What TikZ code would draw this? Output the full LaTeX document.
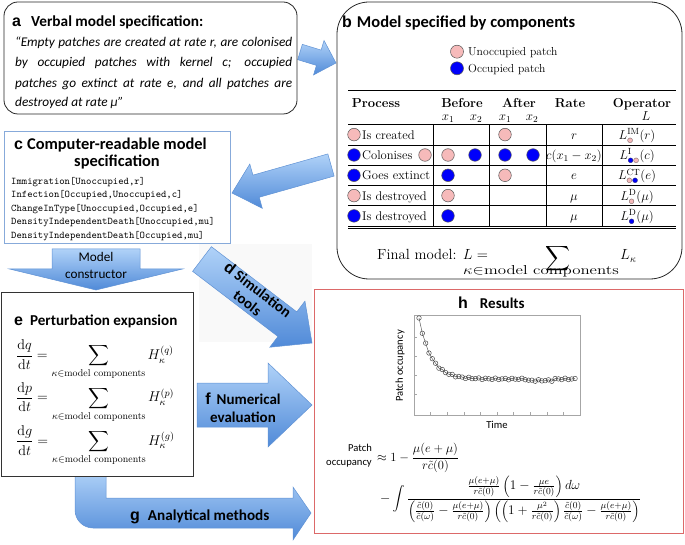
\RequirePackage{fix-cm}
\documentclass[tikz,border=0pt]{standalone}
\usepackage{fontspec}
\usepackage{amsmath}
\usepackage{graphicx}
\newfontfamily\carl{Carlito}
\newfontfamily\arl{Liberation Sans}
\newfontfamily\djv{DejaVu Sans}
\definecolor{pinkc}{RGB}{246,186,186}
\definecolor{bluec}{RGB}{0,0,250}
\definecolor{alight}{RGB}{176,210,248}
\definecolor{adark}{RGB}{80,138,216}
\definecolor{aedge}{RGB}{96,146,212}
\definecolor{redbox}{RGB}{220,105,105}
\definecolor{cbox}{RGB}{135,170,218}
\newcommand\fsz[1]{\fontsize{#1}{#1}\selectfont}
\newcommand\lab[1]{{\arl\bfseries\fontsize{16}{16}\selectfont #1}}
\newcommand\SP{\mbox{\djv\fontsize{6.5}{6.5}\selectfont\rlap{\textcolor{pinkc}{●}}\textcolor{black!75}{○}}}
\newcommand\SB{\mbox{\djv\fontsize{6.5}{6.5}\selectfont\rlap{\textcolor{bluec}{●}}\textcolor{black!75}{○}}}
\newcommand\barrow[8][]{%
  \pgfmathsetmacro\baang{atan2(-(#5-#3),#4-#2)}%
  \pgfmathsetmacro\balen{veclen(#4-#2,#5-#3)}%
  \begin{scope}[shift={(#4,#5)},rotate=\baang]
    \draw[blockarrow,#1] (0,0) -- (-#8,#7/2) -- (-#8,#6/2) -- (-\balen,#6/2)
      -- (-\balen,-#6/2) -- (-#8,-#6/2) -- (-#8,-#7/2) -- cycle;
  \end{scope}}
\begin{document}
\begin{tikzpicture}[x=1pt,y=-1pt,
  every node/.append style={inner sep=0pt},
  blockarrow/.style={top color=alight,bottom color=adark,draw=aedge,line width=0.5pt},
  pinkdot/.style={fill=pinkc,draw=black!65,line width=0.5pt},
  bluedot/.style={fill=bluec,draw=black!65,line width=0.5pt},
  ttl/.style={font=\carl\bfseries\fsz{#1}},
  tabtxt/.style={font=\fsz{12.6}},
  rule/.style={line width=0.5pt}]
\useasboundingbox (0,0) rectangle (685,545);
\fill[gray!5] (199,244) rectangle (312,342);

% ---------- block arrows ----------
\barrow{300}{52}{336}{63}{16}{36}{18}
\barrow{331}{165}{232}{193}{23}{46}{25}
\barrow{96}{249}{96}{290}{88}{173}{21}
\barrow{202}{259}{312}{343}{31}{58}{31}
\barrow{197}{405}{312}{405}{44}{84}{44}
\draw[blockarrow] (75,470) -- (75,510) arc[start angle=180,end angle=270,radius=18pt]
  -- (293,528) -- (293,540) -- (311,513) -- (293,487) -- (293,498) -- (106,498) -- (106,470) -- cycle;

% ---------- panels ----------
\node[draw=black!85,line width=0.8pt,rounded corners=14pt,fill=white,minimum width=293pt,minimum height=112pt] (pa) at (150.5,58) {};
\node[draw=black!85,line width=0.8pt,rounded corners=32pt,fill=white,minimum width=345pt,minimum height=277pt] (pb) at (509.5,140.5) {};
\node[draw=cbox,line width=0.8pt,fill=white,minimum width=226pt,minimum height=112pt] (pc) at (117,187) {};
\node[draw=black!80,line width=0.8pt,fill=white,minimum width=192pt,minimum height=184pt] (pe) at (97,384) {};
\node[draw=redbox,line width=0.8pt,fill=white,minimum width=369pt,minimum height=244pt] (ph) at (498.5,411) {};

% ---------- panel a ----------
\node[ttl=15.3,anchor=base west] (ta) at (12,27) {\lab{a}\hspace{10pt}Verbal model specification:};
\begin{scope}[every node/.append style={font=\carl\itshape\fsz{13.3},anchor=base west}]
\node (a1) at (15,46.7) {\makebox[277pt][s]{“Empty patches are created at rate r, are colonised}};
\node (a2) at (15,66.7) {\makebox[277pt][s]{by occupied patches with kernel c; occupied}};
\node (a3) at (15,87.3) {\makebox[277pt][s]{patches go extinct at rate e, and all patches are}};
\node (a4) at (15,106.7) {destroyed at rate μ”};
\end{scope}

% ---------- panel b ----------
\node[ttl=16.5,anchor=base west] (tb) at (342,28) {\lab{b}\hspace{5pt}Model specified by components};
\draw[pinkdot] (457,51.7) circle (6.5pt);
\draw[bluedot] (457,68.3) circle (6.5pt);
\node[font=\fsz{11.6},anchor=base west] (l1) at (468,55.6) {Unoccupied patch};
\node[font=\fsz{11.6},anchor=base west] (l2) at (468,72.2) {Occupied patch};
\draw[line width=1pt] (348,90.5) -- (676,90.5);
\draw[rule] (348,124.5) -- (676,124.5);
\foreach \yy in {144.8,165.1,185.4,205.7} \draw[rule] (348,\yy) -- (676,\yy);
\draw[rule] (348,226) -- (676,226) (348,228.5) -- (676,228.5);
\foreach \xx in {433,489,546,602} \draw[rule] (\xx,124.5) -- (\xx,226);
\begin{scope}[every node/.append style={font=\bfseries\fsz{13},anchor=base}]
\node (hP) at (376,107.5) {Process};
\node (hB) at (462,107.5) {Before};
\node (hA) at (519,107.5) {After};
\node (hR) at (570,107.5) {Rate};
\node (hO) at (642,107.5) {Operator};
\end{scope}
\begin{scope}[every node/.append style={font=\fsz{13},anchor=base}]
\node (s1) at (448,120.5) {$x_1$};
\node (s2) at (476,120.5) {$x_2$};
\node (s3) at (505,120.5) {$x_1$};
\node (s4) at (532,120.5) {$x_2$};
\node (s5) at (646,120.5) {$L$};
\end{scope}
% rows
\draw[pinkdot] (354,134.6) circle (6.3pt);
\draw[bluedot] (354,155) circle (6.3pt);
\draw[bluedot] (354,175.3) circle (6.3pt);
\draw[pinkdot] (354,195.6) circle (6.3pt);
\draw[bluedot] (354,215.9) circle (6.3pt);
\draw[pinkdot] (425,155) circle (6.3pt);
\draw[pinkdot] (505,134.6) circle (6.3pt);
\draw[pinkdot] (448,155) circle (6.3pt);
\draw[bluedot] (475,155) circle (6.3pt);
\draw[bluedot] (505,155) circle (6.3pt);
\draw[bluedot] (533,155) circle (6.3pt);
\draw[bluedot] (448,175.3) circle (6.3pt);
\draw[pinkdot] (505,175.3) circle (6.3pt);
\draw[pinkdot] (448,195.6) circle (6.3pt);
\draw[bluedot] (448,215.9) circle (6.3pt);
\begin{scope}[every node/.append style={tabtxt,anchor=base west}]
\node (p1) at (362,139.1) {Is created};
\node (p2) at (362,159.5) {Colonises};
\node (p3) at (362,179.8) {Goes extinct};
\node (p4) at (362,200.1) {Is destroyed};
\node (p5) at (362,220.4) {Is destroyed};
\end{scope}
\begin{scope}[every node/.append style={font=\fsz{12.8},anchor=base}]
\node (r1) at (574,139.1) {$r$};
\node (r2) at (574,159.5) {$c(x_1-x_2)$};
\node (r3) at (574,179.8) {$e$};
\node (r4) at (574,200.1) {$\mu$};
\node (r5) at (574,220.4) {$\mu$};
\node (o1) at (637,139.1) {$L^{\mathrm{IM}}_{\SP}(r)$};
\node (o2) at (637,159.5) {$L^{\mathrm{I}}_{\SB\SP}(c)$};
\node (o3) at (637,179.8) {$L^{\mathrm{CT}}_{\SP\SB}(e)$};
\node (o4) at (637,200.1) {$L^{\mathrm{D}}_{\SP}(\mu)$};
\node (o5) at (637,220.4) {$L^{\mathrm{D}}_{\SB}(\mu)$};
\end{scope}
\node[font=\fsz{14.7},anchor=base west] (fm) at (377,260) {Final model: $L=$};
\node[font=\fsz{18}] (fs) at (558,259) {$\displaystyle\sum$};
\node[font=\fsz{13},anchor=base] (fsub) at (541,274.5) {\scalebox{1.3}[1]{$\kappa{\in}\text{model components}$}};
\node[font=\fsz{14.7},anchor=base west] (fl) at (620,260) {$L_\kappa$};

% ---------- panel c ----------
\node[ttl=16.4,anchor=base west] (tc1) at (14,150) {\lab{c}\hspace{4pt}Computer-readable model};
\node[ttl=16.4,anchor=base] (tc2) at (117,167) {specification};
\begin{scope}[every node/.append style={font=\ttfamily\fsz{10.2},anchor=base west}]
\node (c1) at (11,184.5) {Immigration[Unoccupied,r]};
\node (c2) at (11,197.9) {Infection[Occupied,Unoccupied,c]};
\node (c3) at (11,211.3) {ChangeInType[Unoccupied,Occupied,e]};
\node (c4) at (11,224.7) {DensityIndependentDeath[Unoccupied,mu]};
\node (c5) at (11,238.1) {DensityIndependentDeath[Occupied,mu]};
\end{scope}

% ---------- arrow labels ----------
\node[font=\carl\fontsize{13.2}{17}\selectfont,align=center] (mc) at (96,265) {Model\\constructor};
\node[font=\carl\bfseries\fontsize{15}{17}\selectfont,align=center,rotate=-37.5] (dt) at (253,296) {\lab{d} Simulation\\tools};
\node[font=\carl\bfseries\fontsize{15}{18}\selectfont,align=center] (ft) at (243,408) {\lab{f}\hspace{6pt}Numerical\\evaluation};
\node[font=\carl\bfseries\fsz{15.2},anchor=base west] (gt) at (130,520) {\lab{g}\hspace{8pt}Analytical methods};

% ---------- panel e ----------
\node[ttl=15.1,anchor=base west] (te) at (14,325) {\lab{e}\hspace{7pt}Perturbation expansion};
\begin{scope}[every node/.append style={font=\fsz{14.2},anchor=base west}]
\node (e1) at (16,359.6) {$\displaystyle\frac{\mathrm{d}q}{\mathrm{d}t}=\sum_{\kappa\in\text{model components}}H^{(q)}_{\kappa}$};
\node (e2) at (16,401.9) {$\displaystyle\frac{\mathrm{d}p}{\mathrm{d}t}=\sum_{\kappa\in\text{model components}}H^{(p)}_{\kappa}$};
\node (e3) at (16,445.3) {$\displaystyle\frac{\mathrm{d}g}{\mathrm{d}t}=\sum_{\kappa\in\text{model components}}H^{(g)}_{\kappa}$};
\end{scope}

% ---------- panel h ----------
\node[ttl=15,anchor=base west] (th) at (458,308) {\lab{h}\hspace{12pt}Results};
\draw[gray!70,line width=0.6pt] (414,315) rectangle (580,415);
\foreach \yy in {337,356,375,394} \draw[gray!70,line width=0.5pt] (414,\yy) -- (417,\yy);
\foreach \k in {1,...,9} \draw[gray!70,line width=0.5pt] ({414+16.6*\k},415) -- ({414+16.6*\k},412);
\draw[black!75,line width=0.4pt]
  plot[variable=\t,domain=0:47,samples=48]
  ({419+3.32*\t},{379-61*exp(-0.2767*\t)+0.8*sin(\t*137)+1.5*(\t>32)*(\t<41)});
\foreach \t in {0,...,47}
  \draw[black!75,line width=0.45pt] ({419+3.32*\t},{379-61*exp(-0.2767*\t)+0.8*sin(\t*137)+1.5*(\t>32)*(\t<41)}) circle (2.3pt);
\node[font=\carl\fsz{10.6},rotate=90] (yl) at (400,366) {Patch occupancy};
\node[font=\carl\fsz{10.6}] (xl) at (497,425) {Time};
\node[font=\carl\fsz{10.6},anchor=base east] (po1) at (372,451.5) {Patch};
\node[font=\carl\fsz{10.6},anchor=base east] (po2) at (372,465) {occupancy};
\node[font=\fsz{12.5},anchor=west] (f1) at (377,458) {$\approx 1-\dfrac{\mu(e+\mu)}{r\tilde c(0)}$};
\node[font=\fsz{13.2},anchor=west] (f2) at (380,499) {$-\displaystyle\int\frac{\frac{\mu(e+\mu)}{r\tilde c(0)}\left(1-\frac{\mu e}{r\tilde c(0)}\right)d\omega}{\left(\frac{\tilde c(0)}{\tilde c(\omega)}-\frac{\mu(e+\mu)}{r\tilde c(0)}\right)\left(\left(1+\frac{\mu^2}{r\tilde c(0)}\right)\frac{\tilde c(0)}{\tilde c(\omega)}-\frac{\mu(e+\mu)}{r\tilde c(0)}\right)}$};
\end{tikzpicture}
\end{document}
